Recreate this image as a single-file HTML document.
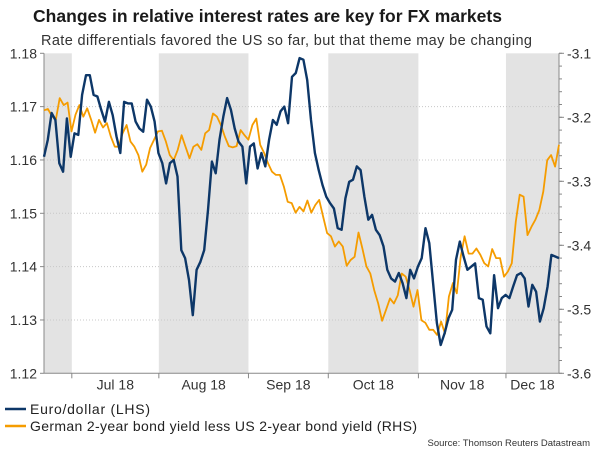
<!DOCTYPE html>
<html><head><meta charset="utf-8"><style>
body{margin:0;background:#fff;width:600px;height:450px;overflow:hidden;font-family:"Liberation Sans",Arial,sans-serif}
svg text{font-family:"Liberation Sans",Arial,sans-serif}
</style></head><body>
<svg id="chart" width="600" height="450">
<text x="33" y="22" font-size="17.5" font-weight="bold" fill="#1a1a1a" textLength="469">Changes in relative interest rates are key for FX markets</text>
<text x="41" y="45" font-size="14.5" fill="#333" textLength="491">Rate differentials favored the US so far, but that theme may be changing</text>
<g id="bands"></g><g id="grid"></g><g id="axes"></g><g id="series"></g>
<g>
<line x1="5" y1="409" x2="26" y2="409" stroke="#0d3768" stroke-width="2.5"/>
<text x="30" y="414" font-size="14" fill="#222" textLength="120">Euro/dollar (LHS)</text>
<line x1="5" y1="426" x2="26" y2="426" stroke="#f59c00" stroke-width="2.5"/>
<text x="30" y="431" font-size="14" fill="#222" textLength="387">German 2-year bond yield less US 2-year bond yield (RHS)</text>
</g>
<text x="590" y="446" font-size="9.5" fill="#333" text-anchor="end">Source: Thomson Reuters Datastream</text>
</svg>
<script>
const leftTicks=[1.18,1.17,1.16,1.15,1.14,1.13,1.12];
const rightTicks=[-3.1,-3.2,-3.3,-3.4,-3.5,-3.6];
const months=["Jul 18","Aug 18","Sep 18","Oct 18","Nov 18","Dec 18"];
const monthStarts=[0.054,0.223,0.397,0.552,0.727,0.897];
const eurusd=[1.1606,1.1638,1.1688,1.1675,1.1594,1.1578,1.1678,1.1606,1.165,1.1647,1.1722,1.1759,1.1759,1.1722,1.1719,1.1694,1.1672,1.1709,1.1684,1.1644,1.1613,1.1709,1.1706,1.1706,1.1672,1.1659,1.1653,1.1713,1.17,1.1672,1.1613,1.1594,1.1556,1.1594,1.16,1.1569,1.1431,1.1416,1.1375,1.1309,1.1394,1.1409,1.1431,1.1506,1.1597,1.1575,1.1638,1.1681,1.1716,1.1694,1.1659,1.1634,1.1625,1.1556,1.1625,1.1631,1.1584,1.1613,1.1588,1.1638,1.1675,1.1666,1.1691,1.17,1.1669,1.1756,1.1763,1.1791,1.1788,1.175,1.1675,1.1613,1.1581,1.1553,1.1531,1.1519,1.1509,1.1472,1.1469,1.1528,1.1559,1.1563,1.1588,1.1581,1.1531,1.1488,1.1497,1.1469,1.1459,1.1438,1.1394,1.1378,1.1372,1.1388,1.1369,1.1341,1.1394,1.1378,1.14,1.1416,1.1472,1.1444,1.1369,1.1294,1.1253,1.1275,1.1303,1.1319,1.1413,1.1447,1.1419,1.1394,1.14,1.1406,1.1341,1.1338,1.1288,1.1275,1.1384,1.1322,1.1341,1.1347,1.1341,1.1363,1.1384,1.1388,1.1378,1.1325,1.1366,1.1353,1.1297,1.1322,1.1363,1.1422,1.1419,1.1416];
const spread=[-3.189,-3.187,-3.198,-3.204,-3.170,-3.181,-3.177,-3.222,-3.196,-3.181,-3.199,-3.186,-3.204,-3.224,-3.204,-3.216,-3.209,-3.230,-3.246,-3.246,-3.225,-3.212,-3.238,-3.246,-3.259,-3.285,-3.274,-3.248,-3.235,-3.222,-3.221,-3.238,-3.259,-3.267,-3.251,-3.228,-3.246,-3.264,-3.246,-3.242,-3.251,-3.225,-3.220,-3.194,-3.199,-3.212,-3.230,-3.245,-3.247,-3.245,-3.220,-3.228,-3.235,-3.212,-3.202,-3.243,-3.256,-3.272,-3.285,-3.290,-3.290,-3.308,-3.332,-3.334,-3.349,-3.340,-3.347,-3.330,-3.349,-3.337,-3.329,-3.355,-3.381,-3.386,-3.402,-3.394,-3.402,-3.432,-3.423,-3.418,-3.380,-3.405,-3.433,-3.444,-3.470,-3.491,-3.518,-3.501,-3.483,-3.491,-3.478,-3.444,-3.449,-3.470,-3.496,-3.470,-3.517,-3.521,-3.532,-3.532,-3.540,-3.519,-3.538,-3.480,-3.459,-3.475,-3.418,-3.386,-3.413,-3.413,-3.405,-3.415,-3.428,-3.433,-3.406,-3.420,-3.420,-3.449,-3.441,-3.428,-3.363,-3.321,-3.324,-3.384,-3.371,-3.360,-3.345,-3.316,-3.267,-3.259,-3.277,-3.243];
const X0=44,X1=559,Y0=53.3,Y1=373.3,NS="http://www.w3.org/2000/svg";
const yL=v=>Y0+(1.18-v)/0.06*(Y1-Y0);
const yR=v=>Y0+(-3.1-v)/0.5*(Y1-Y0);
const xf=f=>X0+f*(X1-X0);
function mk(t,a,p){const e=document.createElementNS(NS,t);for(const k in a)e.setAttribute(k,a[k]);p.appendChild(e);return e;}
const bands=document.getElementById('bands'),grid=document.getElementById('grid'),axes=document.getElementById('axes'),series=document.getElementById('series');
const edges=[0,...monthStarts,1];
for(let i=0;i<edges.length-1;i+=2){
 const r=mk('rect',{x:xf(edges[i]),y:Y0,width:xf(edges[i+1])-xf(edges[i]),height:Y1-Y0,fill:'#e3e3e3'},bands);
 
 
}
leftTicks.forEach(v=>{
 const y=yL(v);
 if(v>1.12&&v<1.18){const g=mk('line',{x1:X0,x2:X1,y1:y,y2:y,stroke:'#c8c8c8','stroke-dasharray':'1,2'},grid);
 
 }
 const t=mk('text',{x:37,y:y+5,'font-size':14,'text-anchor':'end',fill:'#333'},axes);t.textContent=v.toFixed(2);
 
 
});
rightTicks.forEach(v=>{
 const y=yR(v);
 mk('line',{x1:X1,x2:X1+5,y1:y,y2:y,stroke:'#888'},axes);
 const t=mk('text',{x:567,y:y+5,'font-size':14,fill:'#333'},axes);t.textContent=v.toFixed(1);
 
 
});
for(let v=-3.1;v>-3.61;v-=0.02){const y=yR(v);mk('line',{x1:X1,x2:X1+3,y1:y,y2:y,stroke:'#888'},axes);}
mk('line',{x1:X0,x2:X0,y1:Y0,y2:Y1,stroke:'#888'},axes);
mk('line',{x1:X1,x2:X1,y1:Y0,y2:Y1,stroke:'#888'},axes);
mk('line',{x1:X0,x2:X1,y1:Y1,y2:Y1,stroke:'#888'},axes);
leftTicks.forEach(v=>mk('line',{x1:X0-4,x2:X0,y1:yL(v),y2:yL(v),stroke:'#888'},axes));
monthStarts.forEach((f,i)=>{
 mk('line',{x1:xf(f),x2:xf(f),y1:Y1,y2:Y1+5,stroke:'#888'},axes);
 const nx=i<monthStarts.length-1?monthStarts[i+1]:1;
 const t=mk('text',{x:xf((f+nx)/2),y:Y1+16,'font-size':14,'text-anchor':'middle',fill:'#333'},axes);t.textContent=months[i];
 
 
});
function line(arr,yf,col,name){
 const d=arr.map((v,i)=>(i?'L':'M')+xf(i/(arr.length-1)).toFixed(1)+','+yf(v).toFixed(1)).join('');
 const p=mk('path',{d,fill:'none',stroke:col,'stroke-width':name==='eurusd-line'?2.4:1.8,'stroke-linejoin':'round'},series);
 
 
}
line(spread,yR,'#f59c00','yield-spread-line');
line(eurusd,yL,'#0d3768','eurusd-line');
</script>
</body></html>
